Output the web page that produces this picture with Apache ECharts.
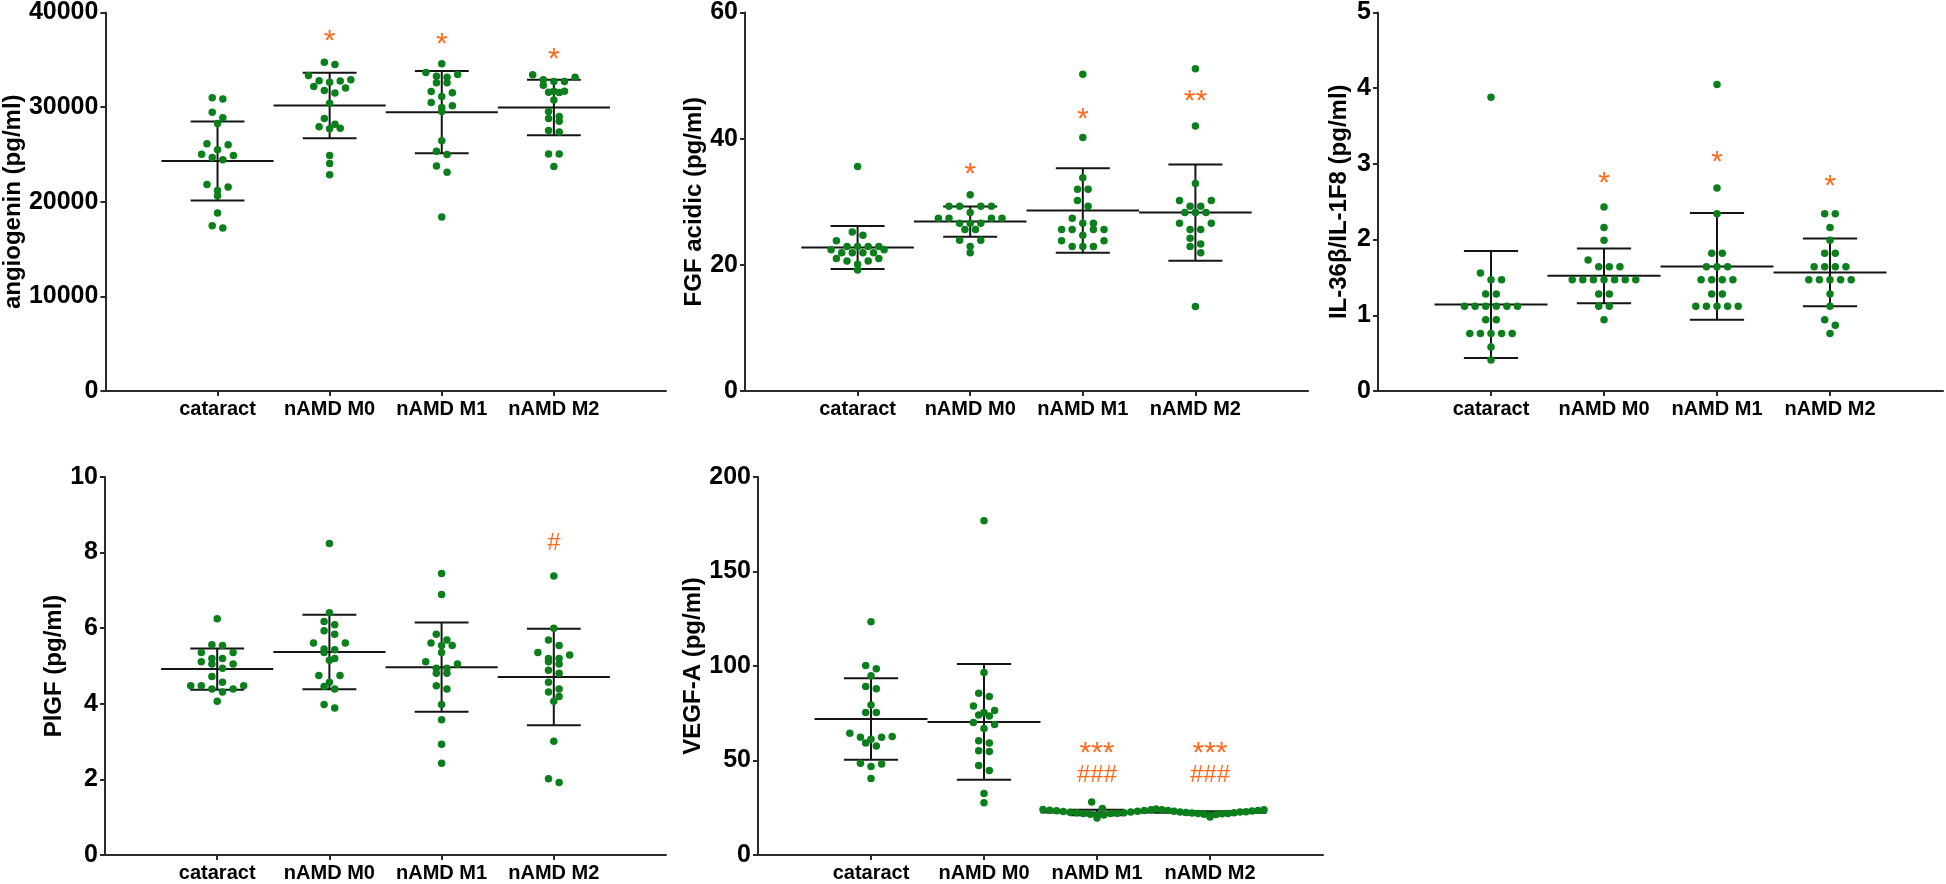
<!DOCTYPE html>
<html>
<head>
<meta charset="utf-8">
<script src="https://cdn.jsdelivr.net/npm/echarts@6/dist/echarts.min.js"></script>
<style>html,body{margin:0;padding:0;background:#fff}#c{width:1946px;height:884px}</style>
</head>
<body>
<div id="c"></div>
<script>
// ---------- data ----------
const categories = ['cataract', 'nAMD M0', 'nAMD M1', 'nAMD M2'];

// angiogenin (pg/ml)
const angCataract = [31000, 30850, 29470, 28870, 28270, 26130, 26020, 25490, 25030, 24890, 24680, 24440, 21830, 21550, 21200, 20630, 18800, 17460, 17220];
const angM0 = [34750, 34510, 33350, 32890, 32780, 32750, 32640, 32180, 32010, 31760, 31480, 30420, 28800, 28200, 27920, 27780, 27710, 24890, 24050, 22850];
const angM1 = [34580, 33660, 33450, 33270, 33170, 32570, 32570, 31650, 31510, 31130, 30490, 30140, 29960, 29540, 26440, 25350, 25000, 23770, 23130, 18380];
const angM2 = [33420, 33170, 32890, 32710, 32710, 32320, 31690, 31690, 31580, 31550, 30740, 29540, 29010, 28800, 28520, 27540, 27360, 25040, 25040, 23730];
const angMean = [24300, 30180, 29470, 29960];
const angSD = [4180, 3465, 4350, 2940];
const angMarkText = ['', '*', '*', '*'];
const angMarkVal = [null, 37750, 37390, 35810];

// FGF acidic (pg/ml)
const fgfCataract = [35.6, 25.2, 24.7, 23.8, 22.9, 22.9, 22.9, 22.9, 22.4, 22.4, 21.9, 21.9, 21.9, 21.9, 21.0, 21.0, 20.6, 20.6, 20.1, 19.2];
const fgfM0 = [31.1, 29.3, 29.3, 29.3, 29.3, 28.3, 27.4, 27.4, 27.4, 27.4, 26.6, 26.6, 26.6, 25.6, 25.6, 23.9, 23.9, 22.9, 21.9];
const fgfM1 = [50.2, 40.2, 33.8, 32.0, 32.0, 30.2, 29.3, 27.4, 26.6, 26.6, 25.6, 25.6, 25.6, 25.6, 24.7, 23.8, 23.8, 22.9, 22.9, 22.9];
const fgfM2 = [51.1, 42.0, 32.9, 30.2, 30.2, 29.3, 29.3, 28.3, 28.3, 28.3, 26.6, 26.6, 25.6, 25.6, 24.2, 23.3, 22.9, 21.9, 13.4];
const fgfMean = [22.74, 26.86, 28.60, 28.28];
const fgfSD = [3.4, 2.4, 6.7, 7.62];
const fgfMarkText = ['', '*', '*', '**'];
const fgfMarkVal = [null, 35.6, 44.2, 47.2];

// IL-36β/IL-1F8 (pg/ml)
const ilCataract = [3.88, 1.56, 1.47, 1.47, 1.28, 1.28, 1.12, 1.12, 1.12, 1.12, 1.12, 1.12, 0.94, 0.94, 0.76, 0.76, 0.76, 0.76, 0.76, 0.58, 0.41];
const ilM0 = [2.43, 2.16, 1.99, 1.73, 1.64, 1.64, 1.64, 1.47, 1.47, 1.47, 1.47, 1.47, 1.47, 1.47, 1.28, 1.28, 1.12, 1.12, 0.94];
const ilM1 = [4.05, 2.68, 2.34, 1.82, 1.82, 1.64, 1.64, 1.64, 1.47, 1.47, 1.47, 1.47, 1.28, 1.28, 1.12, 1.12, 1.12, 1.12, 1.12];
const ilM2 = [2.34, 2.34, 2.16, 1.99, 1.82, 1.82, 1.64, 1.64, 1.64, 1.64, 1.47, 1.47, 1.47, 1.47, 1.47, 1.28, 1.12, 0.94, 0.87, 0.76];
const ilMean = [1.143, 1.522, 1.645, 1.566];
const ilSD = [0.708, 0.362, 0.705, 0.447];
const ilMarkText = ['', '*', '*', '*'];
const ilMarkVal = [null, 2.85, 3.12, 2.80];

// PlGF (pg/ml)
const plgfCataract = [6.25, 5.56, 5.54, 5.36, 5.36, 5.20, 5.20, 5.11, 5.05, 5.05, 4.94, 4.72, 4.57, 4.48, 4.48, 4.48, 4.39, 4.39, 4.31, 4.07];
const plgfM0 = [8.24, 6.41, 6.18, 6.09, 5.93, 5.84, 5.61, 5.61, 5.45, 5.43, 5.36, 5.20, 5.15, 4.75, 4.75, 4.57, 4.46, 4.39, 3.98, 3.89];
const plgfM1 = [7.45, 6.89, 5.84, 5.69, 5.61, 5.54, 5.54, 5.36, 5.11, 5.05, 4.94, 4.94, 4.81, 4.81, 4.48, 4.39, 3.98, 3.58, 2.93, 2.43];
const plgfM2 = [7.38, 6.00, 5.69, 5.54, 5.36, 5.29, 5.20, 5.20, 5.11, 5.05, 4.89, 4.81, 4.57, 4.39, 4.31, 4.19, 4.07, 3.01, 2.02, 1.92];
const plgfMean = [4.92, 5.37, 4.97, 4.71];
const plgfSD = [0.545, 0.985, 1.18, 1.275];
const plgfMarkText = ['', '', '', '#'];
const plgfMarkVal = [null, null, null, 8.24];

// VEGF-A (pg/ml)
const vegfCataract = [123.4, 100.2, 98.6, 94.9, 89.1, 88.0, 79.4, 75.4, 75.4, 64.4, 62.7, 62.3, 62.3, 61.3, 59.2, 57.7, 48.6, 48.2, 46.8, 40.5];
const vegfM0 = [176.8, 96.5, 85.6, 83.8, 78.9, 76.4, 75.4, 74.1, 73.6, 70.1, 69.0, 66.9, 60.4, 59.2, 55.1, 54.8, 47.4, 44.7, 32.6, 27.6];
const vegfM1 = [24.6, 23.9, 23.2, 22.8, 23.5, 22.1, 21.6, 21.9, 22.4, 20.9, 19.6, 21.2, 22.0, 22.6, 23.0, 22.3, 23.4, 23.7, 24.1, 28.1];
const vegfM2 = [23.6, 23.1, 22.7, 22.0, 21.4, 21.8, 22.5, 23.9, 24.4, 20.1, 21.0, 21.6, 22.2, 22.8, 23.3, 22.9, 22.4, 23.5, 24.0, 21.9];
const vegfMean = [72.0, 70.4, 22.5, 22.3];
const vegfSD = [21.55, 30.65, 1.5, 0.9];
const vegfMarkText = ['', '', '***', '***'];
const vegfMarkVal = [null, null, 57.9, 57.9];
const vegfHashText = ['', '', '###', '###'];
const vegfHashVal = [null, null, 42.3, 42.3];

// ---------- layout / style ----------
const FONT = 'Liberation Sans, Arial, Helvetica, sans-serif';
const GREEN = '#0b7f1c';
const ORANGE = '#ff6a1a';
const AXIS = '#2a2a2a';

const panels = [
  {name: 'angiogenin (pg/ml)', groups: [angCataract, angM0, angM1, angM2], mean: angMean, sd: angSD,
   marks: [[angMarkText, angMarkVal]], max: 40000, interval: 10000,
   grid: {left: 105, top: 12, width: 561, height: 379}, nameGap: 80},
  {name: 'FGF acidic (pg/ml)', groups: [fgfCataract, fgfM0, fgfM1, fgfM2], mean: fgfMean, sd: fgfSD,
   marks: [[fgfMarkText, fgfMarkVal]], max: 60, interval: 20,
   grid: {left: 745, top: 12, width: 563, height: 379}, nameGap: 39},
  {name: 'IL-36β/IL-1F8 (pg/ml)', groups: [ilCataract, ilM0, ilM1, ilM2], mean: ilMean, sd: ilSD,
   marks: [[ilMarkText, ilMarkVal]], max: 5, interval: 1,
   grid: {left: 1378, top: 12, width: 565, height: 379}, nameGap: 27},
  {name: 'PlGF (pg/ml)', groups: [plgfCataract, plgfM0, plgfM1, plgfM2], mean: plgfMean, sd: plgfSD,
   marks: [[plgfMarkText, plgfMarkVal]], max: 10, interval: 2,
   grid: {left: 105, top: 477, width: 561, height: 378}, nameGap: 38},
  {name: 'VEGF-A (pg/ml)', groups: [vegfCataract, vegfM0, vegfM1, vegfM2], mean: vegfMean, sd: vegfSD,
   marks: [[vegfMarkText, vegfMarkVal], [vegfHashText, vegfHashVal]], max: 200, interval: 50,
   grid: {left: 758, top: 477, width: 565, height: 378}, nameGap: 52}
];

// GraphPad-style scatter layout: values close in pixel space share a row,
// spread symmetrically; within a row the highest values go to the outside.
function swarm(values, idx, pxPerY, pxPerX) {
  const D = 10.6, rowH = 7, maxHalf = 54;
  const sorted = values.slice().sort((a, b) => b - a);
  const rows = [];
  let cur = null;
  for (const v of sorted) {
    if (cur && (cur.v0 - v) * pxPerY < rowH) cur.items.push(v);
    else { cur = {v0: v, items: [v]}; rows.push(cur); }
  }
  const pts = [];
  rows.forEach(r => {
    const n = r.items.length;
    const s = n > 1 ? Math.min(D, 2 * maxHalf / (n - 1)) : 0;
    const slots = [];
    let a = 0, b = n - 1;
    while (a <= b) { slots.push(a++); if (a <= b) slots.push(b--); }
    r.items.forEach((v, k) => {
      const slot = slots[k];
      pts.push([idx + ((slot - (n - 1) / 2) * s) / pxPerX, v]);
    });
  });
  return pts;
}

function errRender(params, api) {
  const i = api.value(0), m = api.value(1), s = api.value(2);
  const l = api.coord([i - 0.5, m]), r = api.coord([i + 0.5, m]);
  const top = api.coord([i, m + s]), bot = api.coord([i, m - s]);
  const cl = api.coord([i - 0.24, m])[0], cr = api.coord([i + 0.24, m])[0];
  const style = {stroke: '#151515', lineWidth: 2};
  return {type: 'group', children: [
    {type: 'line', shape: {x1: l[0], y1: l[1], x2: r[0], y2: r[1]}, style},
    {type: 'line', shape: {x1: top[0], y1: top[1], x2: bot[0], y2: bot[1]}, style},
    {type: 'line', shape: {x1: cl, y1: top[1], x2: cr, y2: top[1]}, style},
    {type: 'line', shape: {x1: cl, y1: bot[1], x2: cr, y2: bot[1]}, style}
  ]};
}

const grids = [], xAxes = [], yAxes = [], series = [];
panels.forEach((p, k) => {
  grids.push(Object.assign({containLabel: false}, p.grid));
  xAxes.push({
    type: 'value', gridIndex: k, min: -1, max: 4,
    axisLine: {show: true, onZero: false, lineStyle: {color: AXIS, width: 2}},
    axisTick: {show: true, customValues: [0, 1, 2, 3], length: 5, lineStyle: {color: AXIS, width: 2}},
    axisLabel: {show: true, customValues: [0, 1, 2, 3], formatter: v => categories[Math.round(v)] || '',
      color: '#000', fontFamily: FONT, fontWeight: 'bold', fontSize: 20, margin: 8},
    splitLine: {show: false}
  });
  yAxes.push({
    type: 'value', gridIndex: k, min: 0, max: p.max, interval: p.interval,
    name: p.name, nameLocation: 'middle', nameGap: p.nameGap,
    nameTextStyle: {color: '#000', fontFamily: FONT, fontWeight: 'bold', fontSize: 24},
    axisLine: {show: true, onZero: false, lineStyle: {color: AXIS, width: 2}},
    axisTick: {show: true, length: 5, lineStyle: {color: AXIS, width: 2}},
    axisLabel: {color: '#000', fontFamily: FONT, fontWeight: 'bold', fontSize: 25, margin: 7,
      formatter: v => String(v)},
    splitLine: {show: false}
  });
  const pxPerY = p.grid.height / p.max;
  const pxPerX = p.grid.width / 5;
  // error bars (mean ± SD)
  series.push({
    type: 'custom', xAxisIndex: k, yAxisIndex: k, silent: true, z: 3,
    renderItem: errRender,
    data: p.mean.map((m, i) => [i, m, p.sd[i]])
  });
  // points
  const pts = [];
  p.groups.forEach((g, i) => pts.push(...swarm(g, i, pxPerY, pxPerX)));
  series.push({
    type: 'scatter', xAxisIndex: k, yAxisIndex: k, silent: true, z: 4,
    symbol: 'circle', symbolSize: 7.5, itemStyle: {color: GREEN, opacity: 1},
    data: pts
  });
  // significance marks
  p.marks.forEach(([texts, vals]) => {
    const data = [];
    texts.forEach((t, i) => { if (t) data.push({value: [i, vals[i]], name: t}); });
    series.push({
      type: 'custom', xAxisIndex: k, yAxisIndex: k, silent: true, z: 5,
      data,
      renderItem: (params, api) => {
        const c = api.coord([api.value(0), api.value(1)]);
        const t = data[params.dataIndex].name;
        const isStar = t[0] === '*';
        return {type: 'text', x: c[0], y: c[1] + (isStar ? 8 : 0),
          style: {text: t, fill: ORANGE, fontFamily: FONT, fontSize: isStar ? 30 : 24,
            align: 'center', verticalAlign: 'middle'}};
      }
    });
  });
});

const chart = echarts.init(document.getElementById('c'), null, {renderer: 'canvas'});
chart.setOption({
  animation: false,
  backgroundColor: '#fff',
  grid: grids, xAxis: xAxes, yAxis: yAxes, series
});
</script>
</body>
</html>
